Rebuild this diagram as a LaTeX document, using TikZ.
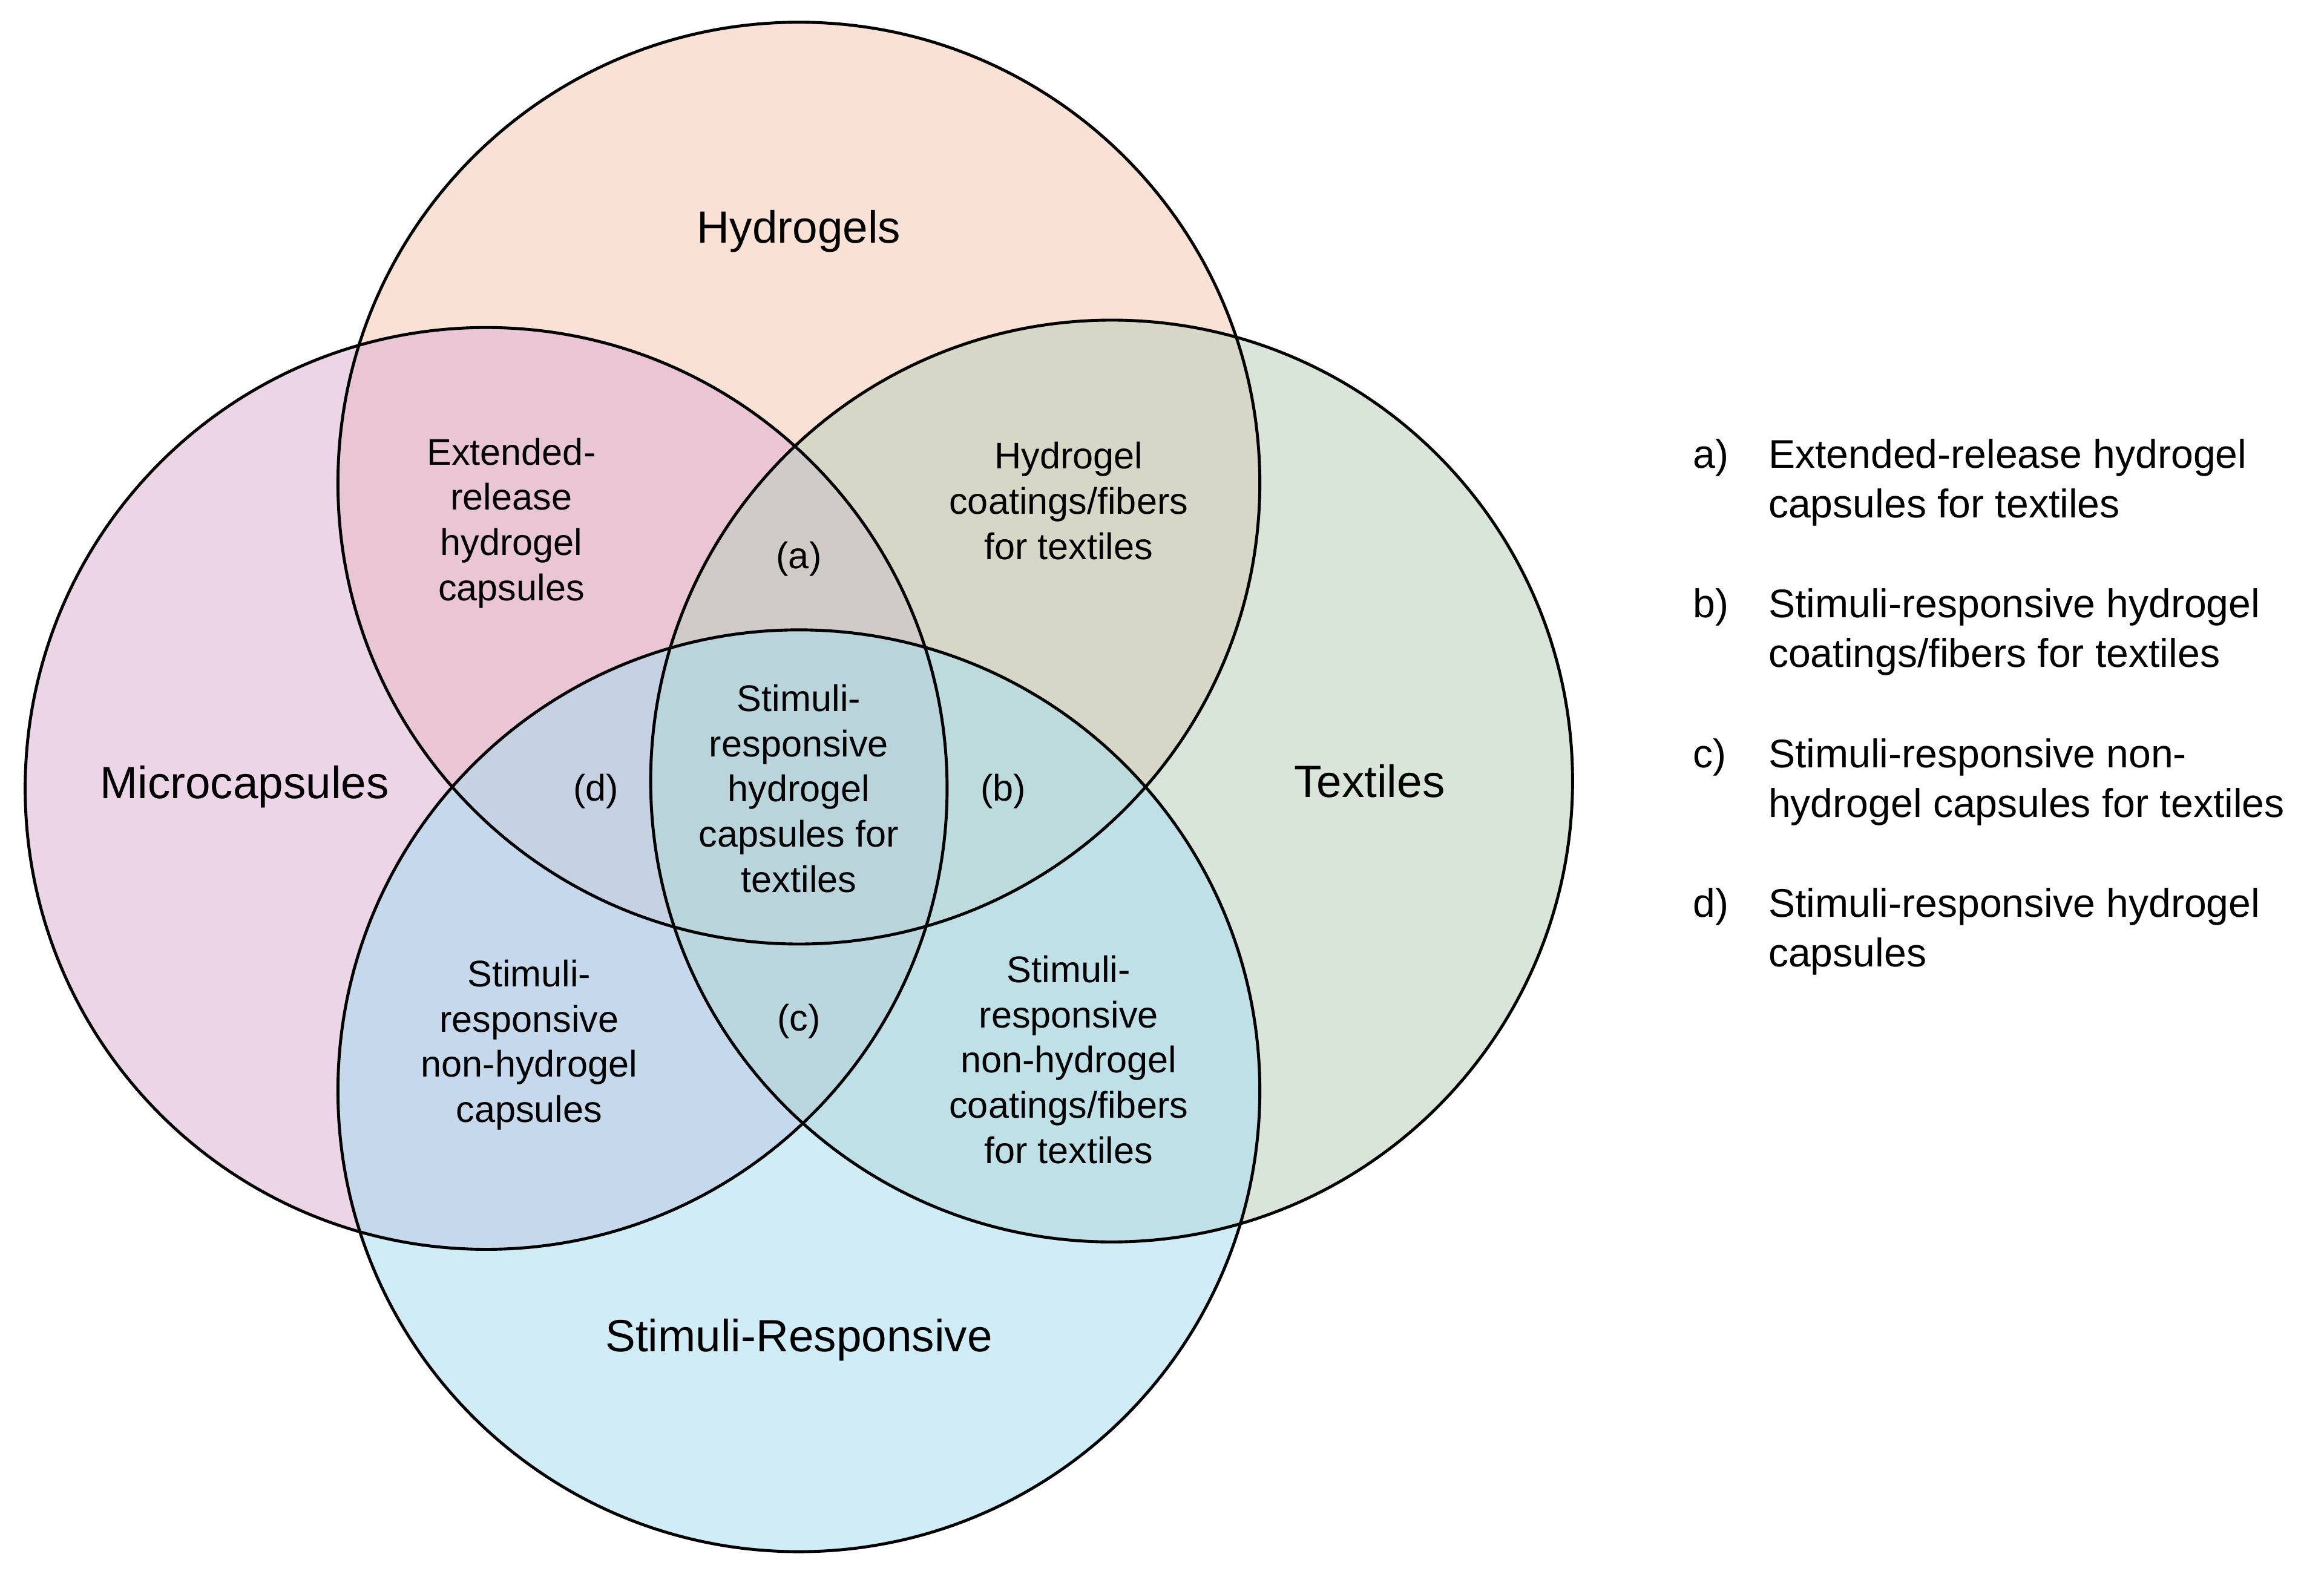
\documentclass[tikz,border=0pt]{standalone}
\usepackage{fontspec}
\setmainfont{Liberation Sans}
\definecolor{hydro}{RGB}{246,200,178}
\definecolor{micro}{RGB}{222,178,214}
\definecolor{tex}{RGB}{186,208,186}
\definecolor{stim}{RGB}{168,220,240}
\begin{document}
\begin{tikzpicture}[x=1pt,y=-1pt,
  set/.style={circle,minimum size=622pt,inner sep=0pt,draw=none,fill opacity=0.55},
  ring/.style={circle,minimum size=622pt,inner sep=0pt,draw=black,line width=2pt},
  big/.style={font=\fontsize{30.5}{36}\selectfont},
  lab/.style={font=\fontsize{25}{30.5}\selectfont,align=center},
  leg/.style={font=\fontsize{27}{33.5}\selectfont,align=left,anchor=north west,inner sep=0pt}]
\useasboundingbox (0,0) rectangle (1568,1062);
\node[set,fill=hydro] (H) at (539,326) {};
\node[set,fill=micro] (M) at (328,532) {};
\node[set,fill=tex] (T) at (750,527) {};
\node[set,fill=stim] (S) at (539,736) {};
\node[ring] (Hr) at (539,326) {};
\node[ring] (Mr) at (328,532) {};
\node[ring] (Tr) at (750,527) {};
\node[ring] (Sr) at (539,736) {};
\node[big] (hl) at (539,156) {Hydrogels};
\node[big] (ml) at (165,531) {Microcapsules};
\node[big] (tl) at (924,527) {Textiles};
\node[big] (sl) at (539,904) {Stimuli-Responsive};
\node[lab] (l1) at (345,353) {Extended-\\release\\hydrogel\\capsules};
\node[lab] (l2) at (721,338) {Hydrogel\\coatings/fibers\\for textiles};
\node[lab] (l3) at (539,377) {(a)};
\node[lab] (l4) at (539,532) {Stimuli-\\responsive\\hydrogel\\capsules for\\textiles};
\node[lab] (l5) at (402,534) {(d)};
\node[lab] (l6) at (677,534) {(b)};
\node[lab] (l7) at (539,689) {(c)};
\node[lab] (l8) at (357,705) {Stimuli-\\responsive\\non-hydrogel\\capsules};
\node[lab] (l9) at (721,715) {Stimuli-\\responsive\\non-hydrogel\\coatings/fibers\\for textiles};
\node[leg] (ka) at (1142,296) {a)};
\node[leg] (ta) at (1193,296) {Extended-release hydrogel\\capsules for textiles};
\node[leg] (kb) at (1142,397) {b)};
\node[leg] (tb) at (1193,397) {Stimuli-responsive hydrogel\\coatings/fibers for textiles};
\node[leg] (kc) at (1142,498) {c)};
\node[leg] (tc) at (1193,498) {Stimuli-responsive non-\\hydrogel capsules for textiles};
\node[leg] (kd) at (1142,599) {d)};
\node[leg] (td) at (1193,599) {Stimuli-responsive hydrogel\\capsules};
\end{tikzpicture}
\end{document}
